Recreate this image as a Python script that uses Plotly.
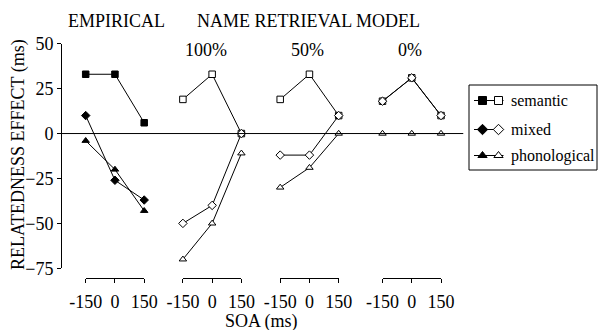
import plotly.graph_objects as go

W, H = 598, 330
FONT = "Liberation Serif"

soa = [-150, 0, 150]
soa_labels = ["-150", "0", "150"]
panel_titles = ["", "100%", "50%", "0%"]
series_names = ["semantic", "mixed", "phonological"]
y_ticks = [50, 25, 0, -25, -50, -75]

empirical_semantic = [33, 33, 6]
empirical_mixed = [10, -26, -37]
empirical_phonological = [-4, -20, -43]
m100_semantic = [19, 33, 0]
m100_mixed = [-50, -40, 0]
m100_phonological = [-70, -50, -11]
m50_semantic = [19, 33, 10]
m50_mixed = [-12, -12, 10]
m50_phonological = [-30, -19, 0]
m0_semantic = [18, 31, 10]
m0_mixed = [18, 31, 10]
m0_phonological = [0, 0, 0]

panels = [
    (empirical_semantic, empirical_mixed, empirical_phonological),
    (m100_semantic, m100_mixed, m100_phonological),
    (m50_semantic, m50_mixed, m50_phonological),
    (m0_semantic, m0_mixed, m0_phonological),
]

# layout in pixels
panel_left = [85.7, 182.9, 280.2, 382.5]
panel_w = 58.5
y_top_px, y_bot_px = 43.7, 268.3
yaxis_x_px = 62
zero_end_px = 463.5
xaxis_y_px = 278

def px(x):
    return x / W

def py(y):
    return 1 - y / H

symbols = ["square", "diamond", "triangle-up"]
sizes = [6.5, 6.5, 6.5]

fig = go.Figure()

for i, series in enumerate(panels):
    xa = "x" if i == 0 else f"x{i+1}"
    filled = i == 0
    for j, vals in enumerate(series):
        fig.add_trace(go.Scatter(
            x=soa, y=vals, xaxis=xa, yaxis="y", mode="lines+markers",
            line=dict(color="black", width=1),
            marker=dict(symbol=symbols[j], size=sizes[j],
                        color="black" if filled else "white",
                        line=dict(color="black", width=1)),
            cliponaxis=False, showlegend=False, hoverinfo="skip",
        ))

# legend drawn on an overlay axis in pixel units
leg_rows = [100.5, 129.5, 155.5]
for j, name in enumerate(series_names):
    yy = leg_rows[j]
    fig.add_trace(go.Scatter(
        x=[474, 503.5], y=[yy, yy], xaxis="x5", yaxis="y5", mode="lines",
        line=dict(color="black", width=1), showlegend=False, hoverinfo="skip"))
    fig.add_trace(go.Scatter(
        x=[482.5], y=[yy], xaxis="x5", yaxis="y5", mode="markers",
        marker=dict(symbol=symbols[j], size=sizes[j] + 1.5, color="black",
                    line=dict(color="black", width=1)),
        showlegend=False, hoverinfo="skip"))
    fig.add_trace(go.Scatter(
        x=[498.5], y=[yy], xaxis="x5", yaxis="y5", mode="markers",
        marker=dict(symbol=symbols[j], size=sizes[j] + 1.5, color="white",
                    line=dict(color="black", width=1)),
        showlegend=False, hoverinfo="skip"))

layout = dict(
    width=W, height=H,
    margin=dict(l=0, r=0, t=0, b=0, pad=0),
    paper_bgcolor="white", plot_bgcolor="rgba(0,0,0,0)",
    font=dict(family=FONT, size=18, color="black"),
    showlegend=False,
)

# invisible x axis that carries the y axis line and the zero line
layout["xaxis6"] = dict(domain=[px(yaxis_x_px), px(zero_end_px)], range=[0, 1],
                        visible=False, anchor="y", fixedrange=True)

layout["yaxis"] = dict(
    domain=[py(y_bot_px), py(y_top_px)], range=[-75, 50],
    anchor="x6", side="left",
    tickvals=y_ticks, ticks="outside", ticklen=4, tickwidth=1, tickcolor="black",
    showline=True, linecolor="black", linewidth=1,
    showgrid=False, zeroline=False, automargin=False,
    tickfont=dict(family=FONT, size=18, color="black"),
)

for i in range(4):
    key = "xaxis" if i == 0 else f"xaxis{i+1}"
    layout[key] = dict(
        domain=[px(panel_left[i]), px(panel_left[i] + panel_w)], range=[-150, 150],
        anchor="free", position=py(xaxis_y_px),
        tickvals=soa, ticktext=soa_labels, ticks="outside", ticklen=4,
        tickwidth=1, tickcolor="black",
        showline=True, linecolor="black", linewidth=1,
        showgrid=False, zeroline=False, automargin=False,
        ticklabelstandoff=3,
        tickfont=dict(family=FONT, size=18, color="black"),
    )

layout["xaxis5"] = dict(domain=[0, 1], range=[0, W], visible=False, anchor="y5")
layout["yaxis5"] = dict(domain=[0, 1], range=[H, 0], visible=False, anchor="x5")

annotations = [
    dict(text="EMPIRICAL", x=px(116.7), y=py(21), xref="paper", yref="paper",
         showarrow=False, xanchor="center", yanchor="middle", font=dict(size=18)),
    dict(text="NAME RETRIEVAL MODEL", x=px(308), y=py(21), xref="paper", yref="paper",
         showarrow=False, xanchor="center", yanchor="middle", font=dict(size=18)),
    dict(text="RELATEDNESS EFFECT (ms)", x=px(18), y=py(155), xref="paper", yref="paper",
         showarrow=False, xanchor="center", yanchor="middle", textangle=-90,
         font=dict(size=18)),
    dict(text="SOA (ms)", x=px(261.7), y=py(321), xref="paper", yref="paper",
         showarrow=False, xanchor="center", yanchor="middle", font=dict(size=18)),
]
title_x = [None, 206, 307, 410]
for i in range(1, 4):
    annotations.append(dict(text=panel_titles[i], x=px(title_x[i]), y=py(49.5),
                            xref="paper", yref="paper", showarrow=False,
                            xanchor="center", yanchor="middle", font=dict(size=18)))
for j, name in enumerate(series_names):
    annotations.append(dict(text=name, x=px(509), y=py(leg_rows[j]), xref="paper",
                            yref="paper", showarrow=False, xanchor="left",
                            yanchor="middle", font=dict(size=16)))
layout["annotations"] = annotations

layout["shapes"] = [
    dict(type="line", xref="x6", yref="y", x0=0, x1=1,
         y0=0, y1=0, line=dict(color="black", width=1)),
    dict(type="rect", xref="paper", yref="paper", x0=px(469), x1=px(597),
         y0=py(170), y1=py(85), line=dict(color="black", width=1)),
]

fig.update_layout(**layout)
fig.write_html("out.html", config={"displayModeBar": False},
               post_script="document.body.style.margin='0';document.body.style.padding='0';")
